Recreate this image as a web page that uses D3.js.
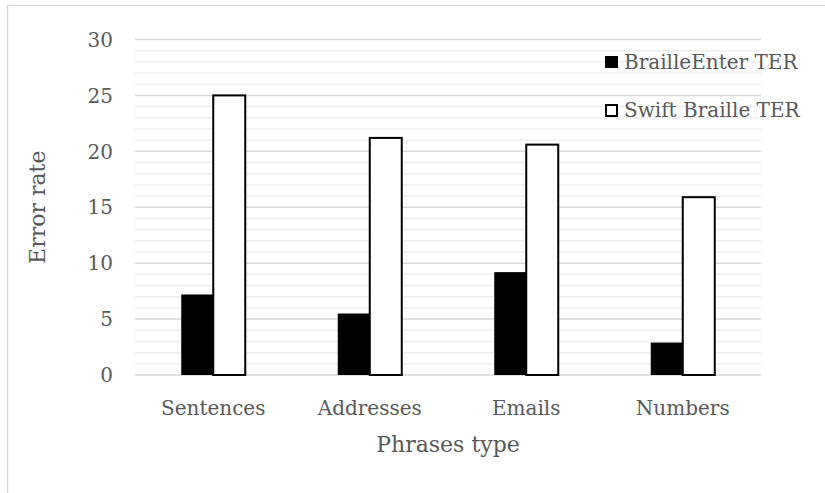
<!DOCTYPE html>
<html>
<head>
<meta charset="utf-8">
<script src="https://cdn.jsdelivr.net/npm/d3@7"></script>
<style>
  body { margin: 0; background: #fff; }
  text { font-family: "DejaVu Serif", serif; fill: #595959; }
</style>
</head>
<body>
<svg id="CHART" width="825" height="493"></svg>
<script>
const categories = ["Sentences", "Addresses", "Emails", "Numbers"];
const seriesNames = ["BrailleEnter TER", "Swift Braille TER"];
const brailleEnter = [7.2, 5.5, 9.2, 2.9];
const swiftBraille = [25.0, 21.2, 20.6, 15.9];
const yTicks = [0, 5, 10, 15, 20, 25, 30];

const chart = {
  draw: function () {
    const width = 825;
    const height = 493;
    const left = 135, right = 761, top = 39.5, bottom = 375;

    const svg = d3.select("#CHART");

    // outer frame
    svg.append("rect")
      .attr("x", 7.5).attr("y", 5.5)
      .attr("width", width).attr("height", height)
      .attr("fill", "none").attr("stroke", "#d9d9d9").attr("stroke-width", 1.5);

    const x = d3.scaleBand().domain(categories).range([left, right]);
    const y = d3.scaleLinear().domain([0, 30]).range([bottom, top]);
    const barW = 32;

    // minor grid every 1
    const minor = d3.range(0, 31).filter((v) => v % 5 !== 0);
    svg.append("g").selectAll("line").data(minor).join("line")
      .attr("x1", left).attr("x2", right)
      .attr("y1", (d) => y(d)).attr("y2", (d) => y(d))
      .attr("stroke", "#efefef").attr("stroke-width", 1.5);

    // major grid
    svg.append("g").selectAll("line").data(yTicks).join("line")
      .attr("x1", left).attr("x2", right)
      .attr("y1", (d) => y(d)).attr("y2", (d) => y(d))
      .attr("stroke", "#d9d9d9").attr("stroke-width", 1.5);

    // y tick labels
    svg.append("g").selectAll("text").data(yTicks).join("text")
      .attr("x", 113).attr("y", (d) => y(d))
      .attr("dy", "0.36em")
      .attr("text-anchor", "end")
      .style("font-size", "20px")
      .text((d) => d);

    // bars
    const g = svg.append("g");
    g.selectAll("rect.be").data(brailleEnter).join("rect")
      .attr("class", "be")
      .attr("x", (d, i) => x(categories[i]) + x.bandwidth() / 2 - barW)
      .attr("y", (d) => y(d))
      .attr("width", barW)
      .attr("height", (d) => y(0) - y(d))
      .attr("fill", "#000");
    g.selectAll("rect.sb").data(swiftBraille).join("rect")
      .attr("class", "sb")
      .attr("x", (d, i) => x(categories[i]) + x.bandwidth() / 2)
      .attr("y", (d) => y(d))
      .attr("width", barW)
      .attr("height", (d) => y(0) - y(d))
      .attr("fill", "#fff")
      .attr("stroke", "#000").attr("stroke-width", 2);

    // x labels
    svg.append("g").selectAll("text").data(categories).join("text")
      .attr("x", (d) => x(d) + x.bandwidth() / 2)
      .attr("y", 415)
      .attr("text-anchor", "middle")
      .style("font-size", "20px")
      .text((d) => d);

    // axis titles
    svg.append("text")
      .attr("x", (left + right) / 2).attr("y", 452)
      .attr("text-anchor", "middle")
      .style("font-size", "22px")
      .text("Phrases type");
    svg.append("text")
      .attr("transform", `translate(45, ${(top + bottom) / 2}) rotate(-90)`)
      .attr("text-anchor", "middle")
      .style("font-size", "22px")
      .text("Error rate");

    // legend
    const legend = svg.append("g");
    seriesNames.forEach((name, i) => {
      const ly = 56 + i * 48;
      legend.append("rect")
        .attr("x", i === 0 ? 605 : 606).attr("y", i === 0 ? ly : ly + 1)
        .attr("width", i === 0 ? 13 : 11).attr("height", i === 0 ? 12 : 11)
        .attr("fill", i === 0 ? "#000" : "#fff")
        .attr("stroke", i === 0 ? "none" : "#000")
        .attr("stroke-width", 2);
      legend.append("text")
        .attr("x", 624).attr("y", ly + 13)
        .style("font-size", "20px")
        .text(name);
    });
  },
};

chart.draw();
</script>
</body>
</html>
